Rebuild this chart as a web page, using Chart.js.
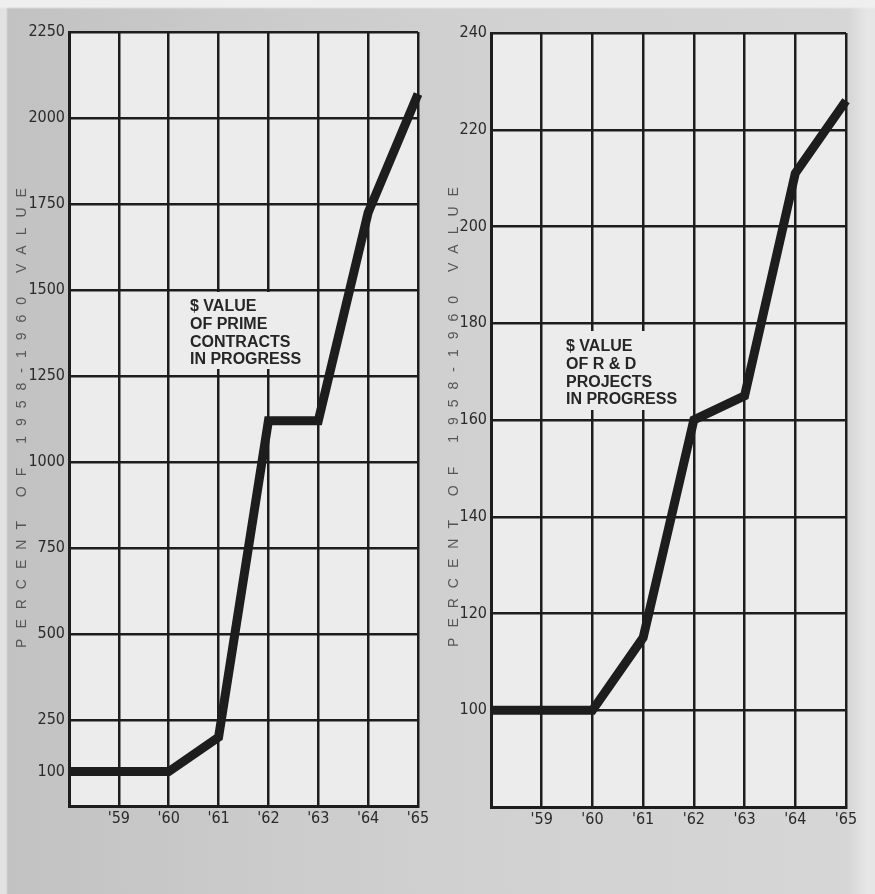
<!DOCTYPE html>
<html>
<head>
<meta charset="utf-8">
<script src="https://cdn.jsdelivr.net/npm/chart.js@4/dist/chart.umd.min.js"></script>
<style>
  html, body { margin: 0; padding: 0; }
  body {
    width: 875px; height: 894px; overflow: hidden; position: relative;
    background:
      linear-gradient(180deg, #efefef 0, #efefef 7px, rgba(0,0,0,0) 9px),
      linear-gradient(90deg, #e2e2e2 0, #e2e2e2 6px, #c2c2c2 8px, #cbcbcb 30%, #d1d1d1 55%, #d6d6d6 97%, #e6e6e6 99%, #e6e6e6 100%);
  }
  canvas { position: absolute; top: 0; }
  #left { left: 0; }
  #right { left: 437px; }
</style>
</head>
<body>
<canvas id="left" width="437" height="894"></canvas>
<canvas id="right" width="438" height="894"></canvas>
<script>
  // Valeurs (indice 1958-1960 = 100)
  const YEARS = ["'58", "'59", "'60", "'61", "'62", "'63", "'64", "'65"];
  const PRIME = [100, 100, 100, 200, 1120, 1120, 1725, 2070];
  const RND = [100, 100, 100, 115, 160, 165, 211, 226];
  const PRIME_TICKS = [100, 250, 500, 750, 1000, 1250, 1500, 1750, 2000, 2250];
  const RND_TICKS = [80, 100, 120, 140, 160, 180, 200, 220, 240];
  const NOTE_PRIME = ["$ VALUE", "OF PRIME", "CONTRACTS", "IN PROGRESS"];
  const NOTE_RND = ["$ VALUE", "OF R & D", "PROJECTS", "IN PROGRESS"];
  const Y_TITLE = "PERCENT OF 1958-1960 VALUE";

  const INK = "#1d1d1d";
  const PAPER = "#ececec";
  const TICK_FONT = { family: "'Liberation Sans Narrow', 'DejaVu Sans Condensed', sans-serif", size: 16 };

  // fond clair de la zone de tracé
  const plotBg = {
    id: "plotBg",
    beforeDraw(chart) {
      const a = chart.chartArea, ctx = chart.ctx;
      ctx.save();
      ctx.fillStyle = PAPER;
      ctx.fillRect(a.left, a.top, a.right - a.left, a.bottom - a.top);
      ctx.restore();
    },
  };

  // titre vertical espacé + encadré de texte
  const extras = {
    id: "extras",
    afterDraw(chart, args, o) {
      const ctx = chart.ctx;
      ctx.save();
      ctx.fillStyle = PAPER;
      ctx.fillRect(o.box[0], o.box[1], o.box[2], o.box[3]);
      ctx.fillStyle = "#262626";
      ctx.font = "bold 16px 'Liberation Sans', Arial, sans-serif";
      ctx.textBaseline = "middle";
      o.lines.forEach((t, i) => ctx.fillText(t, o.x, o.y + i * 17.6));
      ctx.restore();

      ctx.save();
      ctx.translate(o.tx, o.ty);
      ctx.rotate(-Math.PI / 2);
      ctx.font = "14px 'Liberation Sans', Arial, sans-serif";
      ctx.letterSpacing = "10px";
      ctx.fillStyle = "#555";
      ctx.textAlign = "center";
      ctx.textBaseline = "middle";
      ctx.fillText(Y_TITLE, 5, 0);
      ctx.restore();
    },
  };

  function make(id, data, yMin, yMax, yTicks, hideGrid, yWidth, pad, extra) {
    return new Chart(document.getElementById(id), {
      type: "line",
      data: {
        labels: YEARS,
        datasets: [{
          data, borderColor: INK, borderWidth: 9, pointRadius: 0,
          borderJoinStyle: "miter", borderCapStyle: "butt", tension: 0, fill: false,
        }],
      },
      options: {
        responsive: false, animation: false,
        layout: { padding: pad },
        plugins: { legend: { display: false }, tooltip: { enabled: false }, extras: extra },
        scales: {
          x: {
            offset: false,
            grid: { color: INK, lineWidth: 2.5, drawTicks: false },
            border: { color: INK, width: 3 },
            ticks: { padding: 3, color: "#2a2a2a", font: TICK_FONT, maxRotation: 0, autoSkip: false,
              callback: (v, i) => (i === 0 ? "" : YEARS[i]) },
            afterFit: (s) => { s.height = 30; },
          },
          y: {
            min: yMin, max: yMax,
            afterBuildTicks: (s) => { s.ticks = yTicks.map((v) => ({ value: v })); },
            grid: { color: (c) => (c.tick && c.tick.value === hideGrid ? "rgba(0,0,0,0)" : INK), lineWidth: 2.5, drawTicks: false },
            border: { color: INK, width: 3 },
            ticks: { padding: 4, color: "#2a2a2a", font: TICK_FONT,
              callback: (v) => (v === yMin ? "" : String(v)) },
            afterFit: (s) => { s.width = yWidth; },
          },
        },
      },
      plugins: [plotBg, extras],
    });
  }

  make("left", PRIME, 0, 2250, PRIME_TICKS, 100, 69,
    { top: 32, right: 19, bottom: 58, left: 0 },
    { lines: NOTE_PRIME, x: 190, y: 307, box: [177, 292, 133, 77], tx: 22, ty: 418 });

  make("right", RND, 80, 240, RND_TICKS, 80, 54,
    { top: 33, right: 29, bottom: 57, left: 0 },
    { lines: NOTE_RND, x: 129, y: 347, box: [122, 331, 126, 79], tx: 17, ty: 417 });
</script>
</body>
</html>
